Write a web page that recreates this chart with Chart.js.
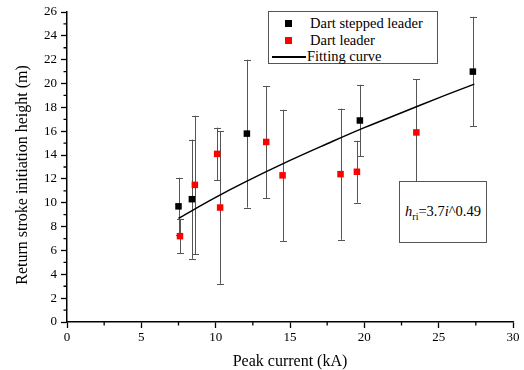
<!DOCTYPE html>
<html>
<head>
<meta charset="utf-8">
<script src="https://cdn.jsdelivr.net/npm/chart.js@4.4.1/dist/chart.umd.min.js"></script>
<style>
    html, body { margin: 0; padding: 0; background: #fff; }
    #wrap { position: relative; width: 524px; height: 370px; }
    .box { position: absolute; background: #fff; border: 1px solid #555; box-sizing: border-box;
           font-family: "Liberation Serif", "Times New Roman", serif; color: #000; }
    #legend { left: 268px; top: 11px; width: 170px; height: 53px; font-size: 14.5px; }
    .row { position: absolute; left: 0; height: 16px; line-height: 16px; white-space: nowrap; }
    .sw { position: absolute; top: 5px; width: 7px; height: 7px; }
    .ln { position: absolute; top: 8px; height: 1.5px; background: #000; }
    #formula { left: 399px; top: 181px; width: 88px; height: 62px; font-size: 14.5px;
               display: flex; align-items: center; justify-content: center; }
    #formula sub { font-size: 10px; vertical-align: -4px; }
</style>
</head>
<body>
<div id="wrap">
    <canvas id="chart" width="524" height="370"></canvas>
    <div class="box" id="legend"></div>
    <div class="box" id="formula"><span><i>h</i><sub>ri</sub>=3.7<i>i</i>^0.49</span></div>
</div>
<script>
// Dart stepped leader (black)
const stepX = [7.5, 8.4, 12.1, 19.7, 27.3];
const stepY = [9.7, 10.3, 15.8, 16.9, 21.0];
const stepErr = [2.4, 5.0, 6.2, 3.0, 4.6];

// Dart leader (red)
const dartX = [7.6, 8.6, 10.1, 10.3, 13.4, 14.5, 18.4, 19.5, 23.5];
const dartY = [7.2, 11.5, 14.1, 9.6, 15.1, 12.3, 12.4, 12.6, 15.9];
const dartErr = [1.45, 5.8, 2.2, 6.4, 4.7, 5.5, 5.5, 2.6, 4.45];

// Fitting curve
const fitX = [7.5, 10, 12, 15, 17.5, 20, 22.5, 25, 27.4];
const fitY = [8.7, 10.45, 11.75, 13.55, 14.95, 16.3, 17.55, 18.8, 19.95];

const seriesNames = ['Dart stepped leader', 'Dart leader', 'Fitting curve'];
const seriesColors = ['#000000', '#ff0000', '#000000'];

const xTicks = [0, 5, 10, 15, 20, 25, 30];
const yTicks = [0, 2, 4, 6, 8, 10, 12, 14, 16, 18, 20, 22, 24, 26];

const FONT = "'Liberation Serif', 'Times New Roman', serif";

function pts(xs, ys, errs) {
    return xs.map((x, i) => ({ x: x, y: ys[i], err: errs ? errs[i] : 0 }));
}

// error bars under the markers
const errorBars = {
    id: 'errorBars',
    beforeDatasetsDraw(chart) {
        const ctx = chart.ctx;
        const xs = chart.scales.x, ys = chart.scales.y;
        ctx.save();
        ctx.strokeStyle = '#555';
        ctx.lineWidth = 1;
        [0, 1].forEach(di => {
            chart.data.datasets[di].data.forEach(p => {
                const px = Math.round(xs.getPixelForValue(p.x)) + 0.5;
                const top = ys.getPixelForValue(p.y + p.err);
                const bot = ys.getPixelForValue(p.y - p.err);
                ctx.beginPath();
                ctx.moveTo(px, top); ctx.lineTo(px, bot);
                ctx.moveTo(px - 3.5, Math.round(top) + 0.5); ctx.lineTo(px + 3.5, Math.round(top) + 0.5);
                ctx.moveTo(px - 3.5, Math.round(bot) + 0.5); ctx.lineTo(px + 3.5, Math.round(bot) + 0.5);
                ctx.stroke();
            });
        });
        ctx.restore();
    }
};

// minor ticks between the labelled ones
const minorTicks = {
    id: 'minorTicks',
    afterDraw(chart) {
        const ctx = chart.ctx;
        const xs = chart.scales.x, ys = chart.scales.y;
        ctx.save();
        ctx.strokeStyle = '#000';
        ctx.lineWidth = 1.3;
        ctx.beginPath();
        for (let i = 0; i < yTicks.length - 1; i++) {
            const py = ys.getPixelForValue((yTicks[i] + yTicks[i + 1]) / 2);
            ctx.moveTo(xs.left - 3.5, py); ctx.lineTo(xs.left, py);
        }
        for (let i = 0; i < xTicks.length - 1; i++) {
            const px = xs.getPixelForValue((xTicks[i] + xTicks[i + 1]) / 2);
            ctx.moveTo(px, ys.bottom); ctx.lineTo(px, ys.bottom + 3.5);
        }
        ctx.stroke();
        ctx.restore();
    }
};

new Chart(document.getElementById('chart'), {
    type: 'scatter',
    data: {
        datasets: [
            { label: seriesNames[0], data: pts(stepX, stepY, stepErr), pointStyle: 'rect',
              pointRadius: 4.6, backgroundColor: seriesColors[0], borderWidth: 0, order: 1 },
            { label: seriesNames[1], data: pts(dartX, dartY, dartErr), pointStyle: 'rect',
              pointRadius: 4.6, backgroundColor: seriesColors[1], borderWidth: 0, order: 2 },
            { label: seriesNames[2], data: pts(fitX, fitY), showLine: true, pointRadius: 0,
              borderColor: seriesColors[2], borderWidth: 1.5, tension: 0.4, order: 3 }
        ]
    },
    options: {
        responsive: false,
        animation: false,
        layout: { padding: { top: 12, right: 11, left: 0, bottom: 0 } },
        plugins: { legend: { display: false }, tooltip: { enabled: false } },
        scales: {
            x: {
                type: 'linear', min: 0, max: 30,
                afterBuildTicks: s => { s.ticks = xTicks.map(v => ({ value: v })); },
                afterFit: s => { s.height = 48; },
                border: { color: '#000', width: 1.5 },
                grid: { drawOnChartArea: false, tickLength: 6, color: '#000', tickWidth: 1.3 },
                ticks: { color: '#000', padding: 2, font: { family: FONT, size: 13 } },
                title: { display: true, text: 'Peak current (kA)', color: '#000',
                         font: { family: FONT, size: 16 }, padding: { top: 0, bottom: -1 } }
            },
            y: {
                type: 'linear', min: 0, max: 26,
                afterBuildTicks: s => { s.ticks = yTicks.map(v => ({ value: v })); },
                afterFit: s => { s.width = 67; },
                border: { color: '#000', width: 1.5 },
                grid: { drawOnChartArea: false, tickLength: 6, color: '#000', tickWidth: 1.3 },
                ticks: { color: '#000', padding: 4, font: { family: FONT, size: 13 } },
                // trailing spaces nudge the rotated title down to where the original sits
                title: { display: true, text: 'Return stroke initiation height (m)\u00a0\u00a0\u00a0\u00a0', color: '#000',
                         font: { family: FONT, size: 16 }, padding: { top: 13 } }
            }
        }
    },
    plugins: [errorBars, minorTicks]
});

// legend box, built from the series lists
const legend = document.getElementById('legend');
seriesNames.forEach((name, i) => {
    const row = document.createElement('div');
    row.className = 'row';
    row.style.top = (3 + i * 16.5) + 'px';
    const mark = document.createElement('span');
    if (i < 2) {
        mark.className = 'sw';
        mark.style.left = '16px';
        mark.style.background = seriesColors[i];
    } else {
        mark.className = 'ln';
        mark.style.left = '3px';
        mark.style.width = '34px';
    }
    const txt = document.createElement('span');
    txt.textContent = name;
    txt.style.position = 'absolute';
    txt.style.left = (i < 2 ? 41 : 38) + 'px';
    row.appendChild(mark);
    row.appendChild(txt);
    legend.appendChild(row);
});
</script>
</body>
</html>
